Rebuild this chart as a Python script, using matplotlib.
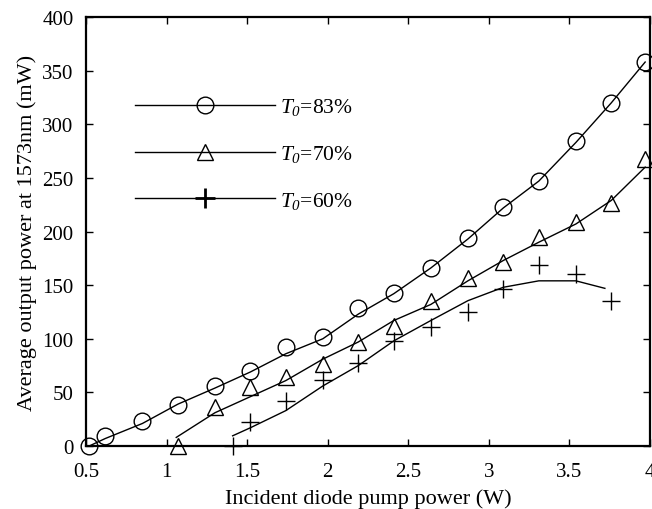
import matplotlib
matplotlib.use("Agg")
import matplotlib.pyplot as plt
from matplotlib.ticker import MultipleLocator, FuncFormatter
from matplotlib.lines import Line2D

plt.rcParams['font.family'] = ['Liberation Serif', 'DejaVu Serif']
plt.rcParams['mathtext.fontset'] = 'custom'
plt.rcParams['mathtext.rm'] = 'Liberation Serif:italic'
plt.rcParams['mathtext.it'] = 'Liberation Serif:italic'

# ---- data ----
x83 = [0.52, 0.62, 0.85, 1.07, 1.30, 1.52, 1.74, 1.97, 2.19, 2.41, 2.64, 2.87, 3.09, 3.31, 3.54, 3.76, 3.97]
y83 = [0, 9.5, 23.5, 38.5, 56, 70, 92, 102, 128.5, 142.5, 166, 194, 223, 247.5, 284.5, 320, 358.5]
fit83_x = [0.52, 0.62, 0.85, 1.07, 1.30, 1.52, 1.74, 1.97, 2.19, 2.41, 2.64, 2.87, 3.09, 3.31, 3.54, 3.76, 3.97]
fit83_y = [0, 7, 21, 39, 54, 69, 86, 100, 123, 142, 166, 193, 222, 247, 283, 320, 358]

x70 = [1.07, 1.30, 1.52, 1.74, 1.97, 2.19, 2.41, 2.64, 2.87, 3.09, 3.31, 3.54, 3.76, 3.97]
y70 = [0, 36, 55, 64, 76.5, 97, 112, 135.5, 157, 172, 194.5, 208.5, 227, 267.5]
fit70_x = [1.06, 1.30, 1.52, 1.74, 1.97, 2.19, 2.41, 2.64, 2.87, 3.09, 3.31, 3.54, 3.76, 3.97]
fit70_y = [8, 31, 46, 61, 81, 97, 117, 132, 154, 173, 190, 207, 229, 260]

x60 = [1.41, 1.52, 1.74, 1.97, 2.19, 2.41, 2.64, 2.87, 3.09, 3.31, 3.54, 3.76]
y60 = [0, 22, 42, 62, 77, 98, 110.5, 124.5, 146, 169, 160, 135.5]
fit60_x = [1.41, 1.52, 1.74, 1.97, 2.19, 2.41, 2.64, 2.87, 3.09, 3.31, 3.54, 3.72]
fit60_y = [9.5, 17, 33, 56, 75, 98, 117, 135.5, 148, 154, 154, 147]

labels = [r'$T_0$=83%', r'$T_0$=70%', r'$T_0$=60%']
xlabel = 'Incident diode pump power (W)'
ylabel = 'Average output power at 1573nm (mW)'

fig = plt.figure(figsize=(6.52, 5.10), dpi=100)
ax = fig.add_axes([86/652, 1-447/510, (650-86)/652, (447-18)/510])

lw = 1.0
ax.plot(fit83_x, fit83_y, color='black', lw=lw, zorder=2)
ax.plot(fit70_x, fit70_y, color='black', lw=lw, zorder=2)
ax.plot(fit60_x, fit60_y, color='black', lw=lw, zorder=2)

ax.plot(x83, y83, ls='none', marker='o', ms=12, mfc='none', mec='black', mew=1.0, clip_on=False, zorder=3)
ax.plot(x70, y70, ls='none', marker='^', ms=12, mfc='none', mec='black', mew=1.0, clip_on=False, zorder=3)
ax.plot(x60, y60, ls='none', marker='+', ms=13, mec='black', mew=1.0, clip_on=False, zorder=3)

ax.set_xlim(0.5, 4.0)
ax.set_ylim(0, 400)
ax.xaxis.set_major_locator(MultipleLocator(0.5))
ax.yaxis.set_major_locator(MultipleLocator(50))
ax.xaxis.set_major_formatter(FuncFormatter(lambda v, p: f'{v:g}'))
ax.tick_params(direction='in', length=5, width=1.0, top=True, right=True, labelsize=15)
ax.tick_params(axis='x', pad=11.5)
ax.tick_params(axis='y', pad=9)
for s in ax.spines.values():
    s.set_linewidth(1.6)

ax.set_xlabel(xlabel, fontsize=16, labelpad=5)
ax.set_ylabel(ylabel, fontsize=16, labelpad=4)

handles = [
    Line2D([], [], color='black', lw=lw, marker='o', ms=12, mfc='none', mec='black', mew=1.0),
    Line2D([], [], color='black', lw=lw, marker='^', ms=12, mfc='none', mec='black', mew=1.0),
    Line2D([], [], color='black', lw=lw, marker='+', ms=14, mec='black', mew=2.0),
]
leg = ax.legend(handles, labels, loc='upper left', bbox_to_anchor=(0.087, 0.815),
                frameon=False, fontsize=15.5, handlelength=6.5, handletextpad=0.25,
                labelspacing=1.2, borderpad=0, borderaxespad=0, numpoints=1)

fig.savefig('out.png', dpi=100)
